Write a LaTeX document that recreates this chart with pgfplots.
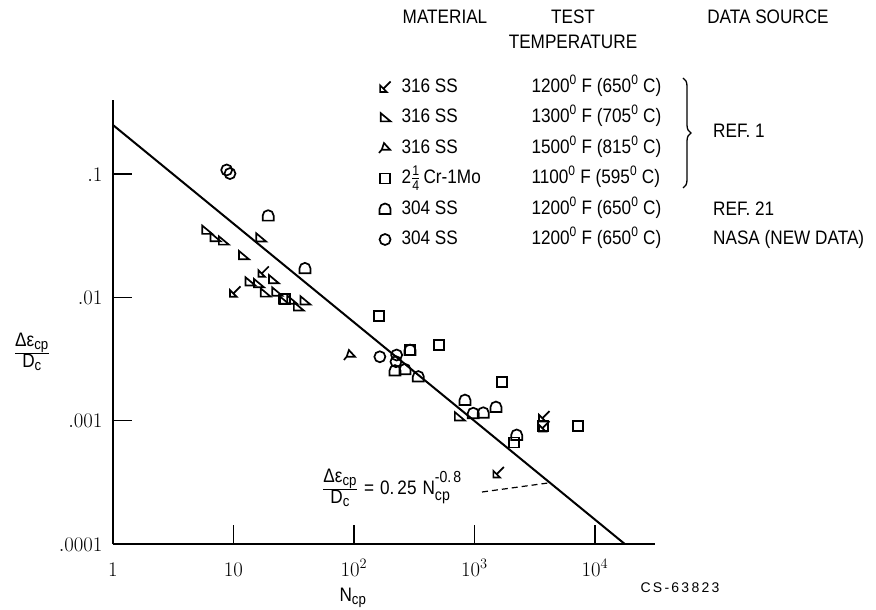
\documentclass[border=0pt]{standalone}
\usepackage{pgfplots}
\pgfplotsset{compat=1.18}
\usepackage{fontspec}
\setmainfont{Liberation Sans}[FakeStretch=0.88]
\newfontfamily\csfont{Liberation Sans}[LetterSpace=16]
\usetikzlibrary{decorations.pathreplacing}
\newcommand\hdr{\fontsize{19.5}{22}\selectfont}
\newcommand\sub{\fontsize{15}{16}\selectfont}
\newcommand\dg{\textsuperscript{0}}

\pgfdeclareplotmark{tri13}{%
 \pgfpathmoveto{\pgfqpoint{-0.8\pgfplotmarksize}{-0.7\pgfplotmarksize}}%
 \pgfpathlineto{\pgfqpoint{-0.8\pgfplotmarksize}{0.8\pgfplotmarksize}}%
 \pgfpathlineto{\pgfqpoint{1.0\pgfplotmarksize}{-0.7\pgfplotmarksize}}%
 \pgfpathclose\pgfusepathqstroke}
\pgfdeclareplotmark{k12}{%
 \pgfpathmoveto{\pgfqpoint{-0.9\pgfplotmarksize}{-0.9\pgfplotmarksize}}%
 \pgfpathlineto{\pgfqpoint{-0.9\pgfplotmarksize}{0.3\pgfplotmarksize}}%
 \pgfpathlineto{\pgfqpoint{0.3\pgfplotmarksize}{-0.9\pgfplotmarksize}}%
 \pgfpathclose
 \pgfpathmoveto{\pgfqpoint{-0.3\pgfplotmarksize}{-0.3\pgfplotmarksize}}%
 \pgfpathlineto{\pgfqpoint{1.0\pgfplotmarksize}{1.0\pgfplotmarksize}}%
 \pgfusepathqstroke}
\pgfdeclareplotmark{t15}{%
 \pgfpathmoveto{\pgfqpoint{-0.2\pgfplotmarksize}{0.9\pgfplotmarksize}}%
 \pgfpathlineto{\pgfqpoint{0.9\pgfplotmarksize}{-0.3\pgfplotmarksize}}%
 \pgfpathlineto{\pgfqpoint{-0.6\pgfplotmarksize}{-0.3\pgfplotmarksize}}%
 \pgfpathclose
 \pgfpathmoveto{\pgfqpoint{-0.6\pgfplotmarksize}{-0.3\pgfplotmarksize}}%
 \pgfpathlineto{\pgfqpoint{-1.1\pgfplotmarksize}{-0.9\pgfplotmarksize}}%
 \pgfusepathqstroke}
\pgfdeclareplotmark{dome}{%
 \pgfpathmoveto{\pgfqpoint{-\pgfplotmarksize}{-0.9\pgfplotmarksize}}%
 \pgfpathlineto{\pgfqpoint{\pgfplotmarksize}{-0.9\pgfplotmarksize}}%
 \pgfpathlineto{\pgfqpoint{\pgfplotmarksize}{0pt}}%
 \pgfpatharc{0}{180}{\pgfplotmarksize}%
 \pgfpathclose\pgfusepathqstroke}

\begin{document}
\begin{tikzpicture}
\useasboundingbox (-113pt,-66pt) rectangle (763pt,544pt);
\begin{axis}[
 at={(0pt,0pt)}, anchor=south west,
 scale only axis, width=542pt, height=444pt,
 xmode=log, ymode=log,
 xmin=1, xmax=31500, ymin=1e-4, ymax=0.399,
 axis x line=bottom, axis y line=left,
 axis line style={-, line width=2pt},
 xtick={1,10,100,1000,10000},
 xticklabels={$1$,$10$,$10^2$,$10^3$,$10^4$},
 ytick={0.0001,0.001,0.01,0.1}, yticklabels={$.0001$,$.001$,$.01$,$.1$},
 xminorticks=false, yminorticks=false,
 tick align=inside, major tick length=19pt,
 tick style={line width=1.6pt, black},
 tick label style={font=\fontsize{21}{23}\selectfont},
 xticklabel style={anchor=base, yshift=-32pt},
 yticklabel style={anchor=base east, xshift=-7pt, yshift=-7pt},
 clip=false,
 every axis plot/.append style={only marks, mark size=5.5pt, line width=1.7pt, black, mark options={solid}},
 legend cell align=left,
 legend style={at={(0.4908,1.0518)}, anchor=north west, draw=none, fill=none,
   inner sep=0pt, outer sep=0pt, row sep=10.5pt, font=\hdr,
   nodes={inner sep=0pt, text height=15pt, text depth=5pt},
   /tikz/every odd column/.append style={column sep=11pt}},
 legend image code/.code={\draw[mark repeat=2,mark phase=2,#1] plot coordinates {(0pt,0pt) (6pt,0pt) (12pt,0pt)};},
]
\addplot[mark=k12] coordinates {(17.7,0.0161) (10.3,0.0111) (3776,0.00108) (3776,0.000895) (1577,0.000380)};
\addlegendentry{\makebox[130pt][l]{316 SS}1200\dg{} F (650\dg{} C)}
\addplot[mark=tri13] coordinates {(5.99,0.0352) (7.02,0.0307) (8.23,0.0288) (16.8,0.0305) (12.1,0.0219) (21.4,0.0140) (13.7,0.0134) (16.1,0.0130) (18.3,0.0109) (22.8,0.0111) (25.9,0.00953) (30.4,0.00953) (34.5,0.00841) (39.2,0.00940) (748,0.00108)};
\addlegendentry{\makebox[130pt][l]{316 SS}1300\dg{} F (705\dg{} C)}
\addplot[mark=t15] coordinates {(92.7,0.00341)};
\addlegendentry{\makebox[130pt][l]{316 SS}1500\dg{} F (815\dg{} C)}
\addplot[mark=square, mark size=5pt] coordinates {(161,0.00711) (292,0.00374) (510,0.00411) (1683,0.00205) (3724,0.000905) (7184,0.000905) (2140,0.000664) (26.8,0.00971)};
\addlegendentry{\makebox[130pt][l]{2$\frac{\mbox{\fontsize{14}{14}\selectfont 1}}{\mbox{\fontsize{14}{14}\selectfont 4}}$\,Cr-1Mo}1100\dg{} F (595\dg{} C)}
\addplot[mark=dome] coordinates {(19.4,0.046) (39.2,0.0172) (292,0.00374) (219,0.00255) (265,0.00261) (342,0.00228) (834,0.00147) (977,0.00115) (1183,0.00116) (1508,0.00129) (2240,0.000766)};
\addlegendentry{\makebox[130pt][l]{304 SS}1200\dg{} F (650\dg{} C)}
\addplot[mark=o] coordinates {(8.78,0.108) (9.35,0.101) (164,0.00330) (226,0.00341) (223,0.00301)};
\addlegendentry{\makebox[130pt][l]{304 SS}1200\dg{} F (650\dg{} C)}
\addplot[forget plot, no marks, sharp plot, line width=2pt] coordinates {(1,0.25) (17678,0.0001)};
\end{axis}
% headers and annotations
\node[font=\hdr] at (332pt,527pt) {MATERIAL};
\node[font=\hdr] at (460pt,527pt) {TEST};
\node[font=\hdr] at (460pt,502pt) {TEMPERATURE};
\node[font=\hdr] at (655pt,527pt) {DATA SOURCE};
\draw[line width=1.3pt, decorate, decoration={brace, amplitude=8pt}] (570pt,466pt) -- (570pt,356pt);
\node[font=\hdr, anchor=west, inner sep=0pt] at (600pt,413pt) {REF. 1};
\node[font=\hdr, anchor=west, inner sep=0pt] at (600pt,335pt) {REF. 21};
\node[font=\hdr, anchor=west, inner sep=0pt] at (600pt,304.5pt) {NASA (NEW DATA)};
\node[font=\hdr, anchor=west, inner sep=0pt] at (209pt,56pt) {$\frac{\mbox{Δε\textsubscript{\sub cp}}}{\mbox{D\textsubscript{\sub c}}}$\hspace{6pt}=\hspace{6pt}0.\hspace{3pt}25\hspace{6pt}N\rlap{\raisebox{12pt}{\fontsize{16}{17}\selectfont -0.\hspace{2pt}8}}\raisebox{-6pt}{\fontsize{16}{17}\selectfont cp}};
\draw[line width=1.2pt, dash pattern=on 6pt off 4pt] (369pt,52pt) -- (435pt,61pt);
\node[font=\hdr] at (-81pt,192pt) {$\frac{\mbox{Δε\textsubscript{\sub cp}}}{\mbox{D\textsubscript{\sub c}}}$};
\node[font=\hdr] at (240pt,-54pt) {N\textsubscript{\sub cp}};
\node[font=\fontsize{14}{15}\selectfont\csfont] at (567pt,-44pt) {CS-63823};
\end{tikzpicture}
\end{document}
